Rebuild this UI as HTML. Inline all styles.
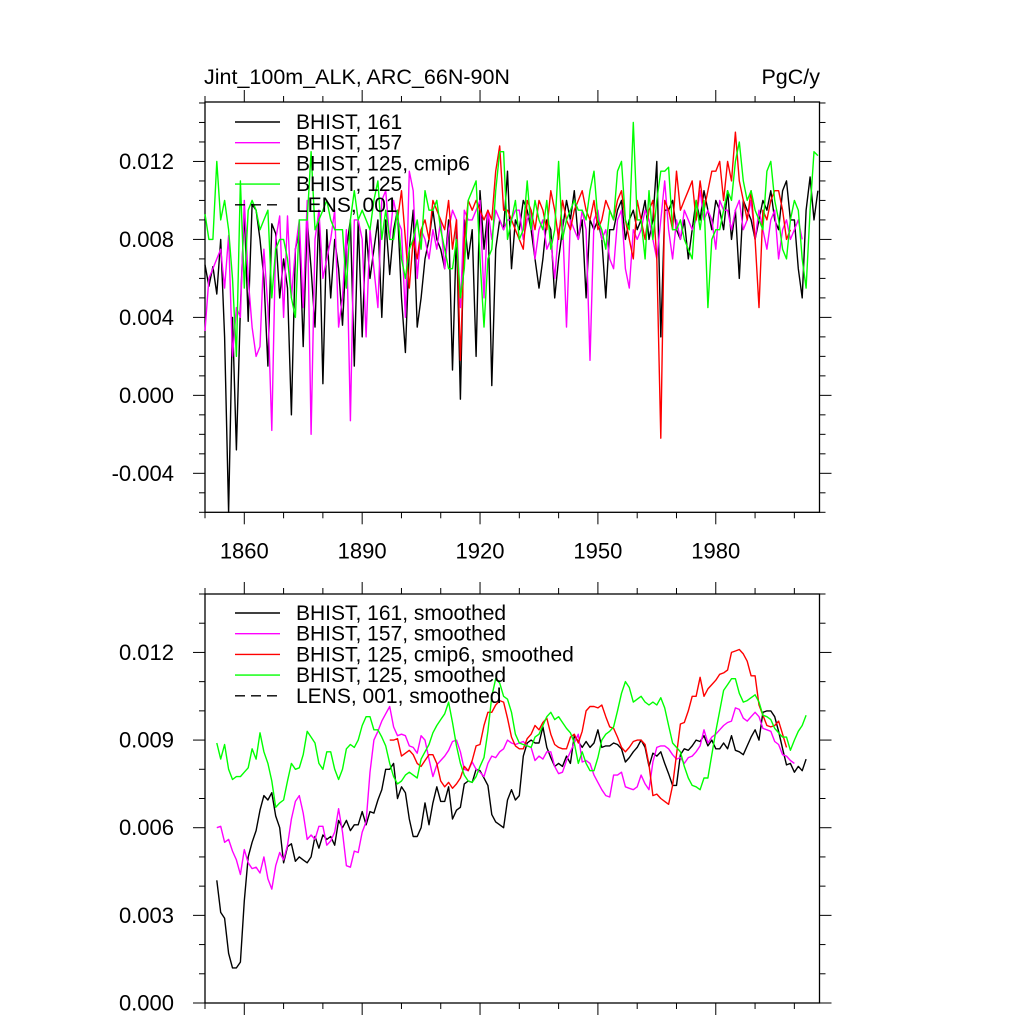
<!DOCTYPE html>
<html><head><meta charset="utf-8"><style>
html,body{margin:0;padding:0;background:#fff;}
svg text{font-family:"Liberation Sans",sans-serif;fill:#000;}
</style></head><body>
<svg id="chart" width="1024" height="1024" viewBox="0 0 1024 1024" xmlns="http://www.w3.org/2000/svg">
<rect width="1024" height="1024" fill="#fff"/>
<g id="g-top"></g>
<g id="g-bot"></g>
</svg>
<script>
// ---- data (values in units of 0.001 PgC/y) ----
const topBlackStart = 1850;
const topBlack = [6.7,5.6,6.6,5.2,8.0,3.0,-6.0,4.0,-2.8,4.5,
9.5,3.8,9.8,9.5,8.0,6.0,1.5,8.8,8.3,5.0,
7.0,5.5,-1.0,7.5,8.5,2.5,9.0,6.5,3.5,9.5,
0.6,8.5,5.0,8.0,6.5,3.6,7.5,9.0,1.5,9.0,
3.0,8.5,6.0,7.5,9.0,4.0,9.0,6.2,8.5,9.5,
5.0,2.2,7.5,9.5,3.5,5.0,7.0,8.0,9.5,8.0,
7.5,6.5,9.0,1.3,8.5,-0.2,9.0,7.0,8.5,2.0,
10.5,7.5,9.5,0.5,7.5,9.0,8.5,11.5,6.5,9.0,
8.5,10.0,9.5,8.5,7.0,5.5,7.0,9.0,8.5,5.0,
7.0,8.5,10.0,9.0,10.5,8.0,9.0,5.0,9.0,8.5,
9.0,8.0,5.0,8.5,8.5,9.5,10.0,8.0,9.0,9.5,
8.5,9.0,10.0,8.0,9.0,12.0,3.0,9.5,9.5,10.0,
8.5,8.0,9.0,7.0,8.5,10.0,9.0,10.5,9.5,8.5,
10.0,9.5,8.5,10.5,8.0,9.5,6.0,10.0,9.5,9.0,
8.0,9.0,10.0,9.5,10.5,9.0,8.5,10.5,11.0,9.0,
9.0,6.5,5.0,9.5,11.2,9.0,10.5];
const topMagentaStart = 1850;
const topMagenta = [3.3,6.0,6.5,7.0,7.5,5.5,8.2,2.0,4.5,4.0,
10.0,6.0,3.5,2.0,2.5,7.5,4.5,-1.8,8.0,9.2,
4.0,9.2,5.0,7.5,9.0,4.5,10.0,-2.0,8.0,9.5,
6.0,7.0,8.0,9.5,3.5,5.0,8.5,-1.3,9.0,9.0,
8.0,3.0,8.5,6.5,4.5,10.0,10.5,8.0,10.0,9.0,
8.5,4.0,11.5,10.5,6.0,8.5,8.0,7.0,8.5,7.5,
9.0,6.5,8.5,9.5,9.0,4.5,9.5,9.0,9.0,9.5,
10.0,5.0,9.5,8.0,9.5,9.0,8.5,9.0,9.0,9.5,
9.5,8.0,9.0,9.5,7.0,8.5,9.0,7.5,8.0,6.0,
8.5,9.0,3.5,9.0,8.5,8.0,9.5,8.5,1.8,9.0,
9.5,8.0,8.5,7.0,6.5,9.0,9.5,6.5,5.5,8.5,
8.0,8.5,9.5,9.0,8.0,7.0,9.0,11.0,8.5,7.0,
9.0,8.0,9.5,9.0,8.5,9.0,10.5,9.0,9.5,9.0,
7.5,10.0,9.5,9.5,8.5,9.5,10.0,8.5,9.0,10.0,
8.0,9.5,8.5,7.5,9.0,9.5,7.0,8.5,9.0,8.0,
8.5,9.0,8.0];
const topRedStart = 1899;
const topRed = [9.0,
10.5,8.0,5.5,8.0,7.0,8.5,9.0,8.0,10.0,9.5,
9.0,8.5,10.0,7.5,9.0,1.8,8.0,10.0,9.5,10.0,
9.5,9.0,9.5,9.0,11.5,12.8,9.5,9.5,9.0,8.5,
8.0,7.5,10.0,9.5,8.5,10.0,9.5,8.5,10.5,9.5,
8.0,10.0,9.0,8.5,9.5,10.0,10.5,9.5,9.0,10.0,
8.5,9.0,10.0,9.5,9.0,10.0,10.5,9.0,8.0,7.0,
10.0,9.0,8.0,9.5,10.0,7.0,-2.2,10.0,9.5,8.5,
11.5,9.5,10.0,10.5,11.0,9.0,11.0,9.5,10.5,11.5,
11.5,12.0,10.0,12.0,11.0,13.5,11.0,10.0,9.0,10.5,
8.0,4.5,9.5,9.0,10.0,10.5,10.5,9.5,8.0,8.5];
const topGreenStart = 1850;
const topGreen = [9.3,8.0,8.0,12.0,9.0,10.0,8.5,6.0,2.0,11.0,
5.5,9.5,10.0,9.5,8.5,9.0,9.5,5.0,7.5,8.0,
8.0,7.0,5.0,4.0,9.0,9.0,9.0,12.5,8.5,9.0,
9.5,10.0,9.0,8.5,8.5,8.5,5.5,9.0,10.5,9.0,
9.5,9.0,8.5,10.0,11.0,8.0,9.5,8.0,8.0,9.5,
7.0,6.0,7.5,8.0,9.0,7.5,10.5,9.5,9.5,10.0,
8.5,7.5,6.5,6.5,8.0,5.0,6.5,10.0,10.5,11.0,
7.0,3.5,7.0,7.5,10.5,12.5,12.5,8.0,9.0,10.0,
8.0,8.5,11.0,8.5,10.0,9.0,8.5,10.0,7.5,8.5,
12.0,8.0,9.0,9.5,10.0,9.5,9.5,9.0,10.5,11.5,
9.0,8.5,7.5,9.5,9.0,11.5,12.0,9.0,8.5,14.0,
9.0,9.0,7.0,10.5,8.0,10.0,11.5,11.5,11.7,8.5,
8.5,9.0,8.0,7.5,7.0,10.0,8.5,10.0,4.5,8.0,
8.5,8.5,9.5,10.5,10.0,12.0,13.0,11.0,10.0,10.5,
9.5,9.0,8.5,11.5,12.0,10.0,9.0,7.5,7.0,9.0,
10.0,9.5,7.0,5.5,9.5,12.5,12.3];

const botBlackStart = 1853;
const botBlack = [4.2,3.1,2.9,1.7,1.2,1.2,1.4,3.5,5.0,5.5,5.9,6.6,7.1,6.95,7.2,6.4,6.0,
4.8,5.35,5.45,4.85,5.0,4.9,4.8,5.0,5.7,5.3,5.75,5.6,5.7,5.4,6.25,6.0,6.25,5.9,6.1,6.1,
6.55,6.1,6.55,6.5,6.95,7.3,8.0,8.0,8.2,7.0,7.4,7.2,6.3,5.7,5.7,6.0,6.85,6.1,6.85,7.4,
6.9,6.9,7.4,6.3,6.6,6.7,7.5,7.6,7.55,8.0,7.95,7.7,7.45,6.45,6.2,6.1,6.0,6.95,7.3,6.95,
7.1,8.45,8.9,9.0,8.9,8.9,9.45,8.75,8.4,8.1,8.2,8.1,8.45,8.2,9.15,8.95,8.75,8.95,8.75,8.9,
9.35,8.75,8.8,8.8,8.9,8.85,8.7,8.25,8.4,8.6,8.75,9.0,8.75,8.1,8.55,8.45,8.6,8.2,7.85,7.45,
7.45,8.5,8.7,8.65,8.8,9.0,8.95,9.15,8.8,9.0,8.7,8.7,8.9,8.7,9.15,8.65,8.6,8.5,8.8,9.1,
9.35,9.0,9.95,10.0,10.0,9.8,9.3,8.7,8.15,8.2,7.9,8.1,7.95,8.35];
const botMagentaStart = 1853;
const botMagenta = [6.0,6.05,5.5,5.6,5.2,4.9,4.4,5.25,4.8,4.6,4.65,4.45,5.0,4.25,3.9,4.7,5.15,
4.9,5.4,6.3,6.9,7.1,6.5,5.6,5.75,5.6,6.05,6.05,5.4,5.55,5.85,6.65,5.85,4.7,4.65,5.2,5.15,
5.85,6.2,7.9,9.0,9.3,9.65,9.9,10.15,9.45,9.15,9.2,9.15,8.8,8.75,8.55,9.15,9.0,8.35,7.75,8.15,
8.3,8.45,8.65,8.95,9.0,8.6,8.0,7.95,8.25,8.0,7.9,7.75,8.2,8.45,8.4,8.6,8.7,9.0,8.9,8.85,
8.9,8.95,8.8,8.75,8.3,8.45,8.35,8.6,8.6,8.1,7.85,7.9,8.3,8.6,8.9,9.2,8.25,8.3,8.2,7.8,
7.55,7.3,7.1,7.05,7.8,7.8,7.9,7.4,7.35,7.3,7.4,7.8,7.5,7.3,8.25,8.75,8.8,8.8,8.7,8.5,
8.35,8.4,8.2,8.4,8.45,8.6,8.8,9.35,8.9,9.1,9.2,9.35,9.5,9.6,9.65,10.1,10.05,9.75,9.65,9.8,
9.95,9.8,9.4,9.35,9.3,8.95,8.85,8.5,8.45,8.3,8.2];
const botRedStart = 1897;
const botRed = [9.0,9.0,9.05,8.45,8.55,8.65,8.5,8.2,8.1,8.3,8.5,8.5,8.2,7.6,7.4,7.55,7.35,7.5,7.7,
8.1,7.95,8.3,8.8,8.85,9.5,9.95,9.95,10.2,10.35,10.3,9.75,9.1,8.8,8.7,8.7,9.05,9.2,9.5,9.35,
9.6,9.75,9.2,8.85,8.75,8.7,8.7,9.1,9.2,8.9,9.3,10.0,10.15,10.15,10.1,10.2,9.8,9.45,9.4,9.1,
8.75,8.6,8.75,8.95,9.0,9.0,8.85,8.15,7.1,7.15,7.0,6.9,6.8,7.45,8.5,9.55,9.6,10.0,10.5,10.5,
11.15,10.5,10.75,10.9,11.05,11.25,11.3,11.4,12.0,12.05,12.1,11.95,11.7,11.2,11.2,10.2,9.85,
9.5,9.45,9.5,9.65,9.2,8.75];
const botGreenStart = 1853;
const botGreen = [8.9,8.35,8.85,8.0,7.65,7.75,7.75,7.9,8.05,8.7,8.35,9.25,8.6,8.2,7.6,6.7,6.85,
6.95,7.6,8.2,8.0,8.05,8.5,9.3,9.1,8.9,8.2,8.0,8.6,8.6,8.0,7.65,8.0,8.7,8.85,8.75,9.0,
9.5,9.8,9.8,9.35,9.35,9.1,8.8,8.2,7.75,7.5,7.6,7.8,7.9,7.8,7.7,8.35,8.6,8.85,9.25,9.5,
9.7,9.9,10.3,9.6,8.8,8.2,7.8,7.6,7.55,7.75,8.1,8.4,9.3,10.5,11.1,10.95,10.5,10.4,9.95,9.2,
8.9,8.85,8.8,8.75,9.1,9.2,9.5,9.8,9.95,9.7,9.8,9.6,9.4,9.25,8.9,8.2,8.6,8.2,7.95,7.95,
8.4,9.0,9.2,9.3,9.45,10.0,10.6,11.0,10.8,10.3,10.4,10.5,10.3,10.2,10.3,10.2,10.45,10.1,9.5,8.9,
8.75,8.6,8.1,7.7,7.45,7.4,7.3,7.7,7.7,8.5,9.3,10.0,10.7,10.9,11.1,11.1,10.6,10.3,10.35,10.45,
10.55,10.3,9.85,9.8,9.7,9.4,9.25,9.1,9.1,8.65,9.0,9.3,9.5,9.85];

const topYTicks = [-4,0,4,8,12];
const topYTickLabels = ["-0.004","0.000","0.004","0.008","0.012"];
const botYTicks = [0,3,6,9,12];
const botYTickLabels = ["0.000","0.003","0.006","0.009","0.012"];
const xTicks = [1860,1890,1920,1950,1980];
const xTickLabels = ["1860","1890","1920","1950","1980"];
const topLegend = ["BHIST, 161","BHIST, 157","BHIST, 125, cmip6","BHIST, 125","LENS, 001"];
const botLegend = ["BHIST, 161, smoothed","BHIST, 157, smoothed","BHIST, 125, cmip6, smoothed","BHIST, 125, smoothed","LENS, 001, smoothed"];

// ---- layout ----
const NS = "http://www.w3.org/2000/svg";
const PL = 205, PR = 819.5;
const X0 = 1850, X1 = 2006.4;
function xs(yr){ return PL + (yr - X0) / (X1 - X0) * (PR - PL); }
function mk(tag, attrs, parent){
  const e = document.createElementNS(NS, tag);
  for (const k in attrs) e.setAttribute(k, attrs[k]);
  parent.appendChild(e); return e;
}
const colors = ["#000","#ff00ff","#ff0000","#00ff00"];

function panel(g, top, bot, ymin, ymax, yTicks, yLabels, minorStep, showX, series, legend, legTop){
  const ys = v => bot - (v - ymin) / (ymax - ymin) * (bot - top);
  const fr = mk("rect",{x:PL,y:top,width:PR-PL,height:bot-top,fill:"none",stroke:"#000","stroke-width":1.3},g);
  
  
  for (let v = Math.ceil(ymin/minorStep)*minorStep; v <= ymax + 1e-9; v += minorStep){
    const y = ys(v);
    const major = yTicks.some(t => Math.abs(t - v) < 1e-6);
    const L = major ? 12 : 6;
    const t1 = mk("line",{x1:PL-L,y1:y,x2:PL,y2:y,stroke:"#000","stroke-width":1},g);
    
    
    const t2 = mk("line",{x1:PR,y1:y,x2:PR+L,y2:y,stroke:"#000","stroke-width":1},g);
    
    
  }
  yTicks.forEach((v,i) => {
    const t = mk("text",{x:174,y:ys(v)+7.5,"text-anchor":"end","font-size":"22"},g);
    t.textContent = yLabels[i];
    
    
  });
  for (let yr = 1850; yr <= 2006; yr += 10){
    const x = xs(yr);
    const major = xTicks.includes(yr);
    const L = major ? 12 : 6;
    const a = mk("line",{x1:x,y1:top-L,x2:x,y2:top,stroke:"#000","stroke-width":1},g);
    
    
    const b = mk("line",{x1:x,y1:bot,x2:x,y2:bot+L,stroke:"#000","stroke-width":1},g);
    
    
  }
  if (showX){
    xTicks.forEach((yr,i) => {
      const t = mk("text",{x:xs(yr),y:bot+46,"text-anchor":"middle","font-size":"22"},g);
      t.textContent = xTickLabels[i];
      
      
    });
  }
  series.forEach((s,i) => {
    const pts = s.vals.map((v,k) => xs(s.start + k).toFixed(1) + "," + ys(v).toFixed(1)).join(" ");
    const p = mk("polyline",{points:pts,fill:"none",stroke:colors[i],"stroke-width":1.4,"stroke-linejoin":"round"},g);
    
    
  });
  legend.forEach((lab,i) => {
    const y = legTop + i*20.7;
    const ln = mk("line",{x1:235,y1:y,x2:280,y2:y,stroke: i===4 ? "#000" : colors[i],"stroke-width":1.4},g);
    if (i===4) ln.setAttribute("stroke-dasharray","10,6");
    
    
    const t = mk("text",{x:296,y:y+7,"font-size":"21"},g);
    t.textContent = lab;
    
    
  });
}

const gt = document.getElementById("g-top");
const gb = document.getElementById("g-bot");
const title = mk("text",{x:204,y:84,"font-size":"21.5"},gt);
title.textContent = "Jint_100m_ALK, ARC_66N-90N";


const units = mk("text",{x:820,y:84,"font-size":"21.5","text-anchor":"end"},gt);
units.textContent = "PgC/y";



panel(gt, 102, 512.3, -6.0, 15.05, topYTicks, topYTickLabels, 1, true, [
  {name:"series-bhist-161", start:topBlackStart, vals:topBlack},
  {name:"series-bhist-157", start:topMagentaStart, vals:topMagenta},
  {name:"series-bhist-125-cmip6", start:topRedStart, vals:topRed},
  {name:"series-bhist-125", start:topGreenStart, vals:topGreen}
], topLegend, 122);

panel(gb, 594, 1003, 0, 14.0, botYTicks, botYTickLabels, 1, false, [
  {name:"series-bhist-161-smoothed", start:botBlackStart, vals:botBlack},
  {name:"series-bhist-157-smoothed", start:botMagentaStart, vals:botMagenta},
  {name:"series-bhist-125-cmip6-smoothed", start:botRedStart, vals:botRed},
  {name:"series-bhist-125-smoothed", start:botGreenStart, vals:botGreen}
], botLegend, 613);
</script>
</body></html>
